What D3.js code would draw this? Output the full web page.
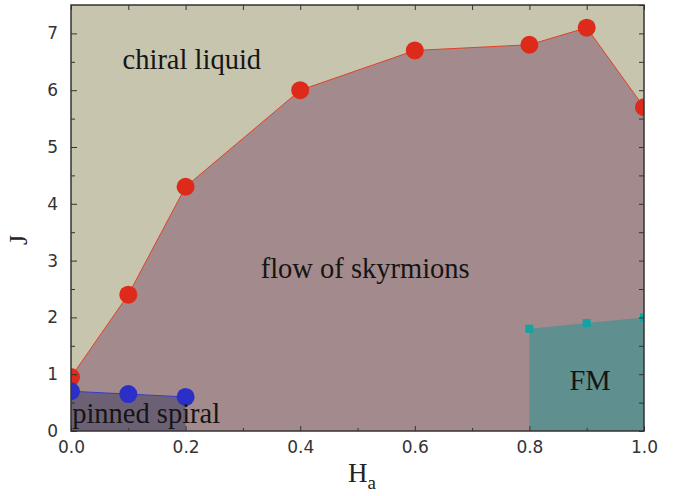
<!DOCTYPE html>
<html><head><meta charset="utf-8">
<script src="https://cdn.jsdelivr.net/npm/d3@7"></script>
<style>body{margin:0;background:#fff}svg{display:block}</style>
</head><body>
<svg id="c" width="681" height="496"></svg>
<script>
const skyrmH = [0, 0.1, 0.2, 0.4, 0.6, 0.8, 0.9, 1.0];
const skyrmJ = [0.95, 2.4, 4.3, 6.0, 6.7, 6.8, 7.1, 5.7];
const pinnedH = [0, 0.1, 0.2];
const pinnedJ = [0.7, 0.65, 0.6];
const fmH = [0.8, 0.9, 1.0];
const fmJ = [1.8, 1.9, 2.0];
const xTicks = [0, 0.2, 0.4, 0.6, 0.8, 1.0];
const yTicks = [0, 1, 2, 3, 4, 5, 6, 7];
const labels = [
  {text: "chiral liquid", h: 0.09, j: 6.38},
  {text: "flow of skyrmions", h: 0.331, j: 2.7},
  {text: "pinned spiral", h: 0.002, j: 0.14},
  {text: "FM", h: 0.87, j: 0.72}
];

const svg = d3.select("#c");
const L = 71, R = 644, T = 5, B = 431;
const x = d3.scaleLinear().domain([0, 1]).range([L, R]);
const y = d3.scaleLinear().domain([0, 7.5]).range([B, T]);

svg.append("defs").append("clipPath").attr("id", "clip")
  .append("rect").attr("x", L).attr("y", T).attr("width", R - L).attr("height", B - T);
const g = svg.append("g").attr("clip-path", "url(#clip)");

g.append("rect").attr("x", L).attr("y", T).attr("width", R - L).attr("height", B - T).attr("fill", "#c7c5ae");

const sk = skyrmH.map((h, i) => [h, skyrmJ[i]]);
const area = d3.area().x(d => x(d[0])).y0(y(0)).y1(d => y(d[1]));
g.append("path").datum(sk).attr("d", area).attr("fill", "#a38a8c");
g.append("path").datum(sk).attr("d", d3.line().x(d => x(d[0])).y(d => y(d[1])))
  .attr("fill", "none").attr("stroke", "#e0402a").attr("stroke-width", 1);

const pn = pinnedH.map((h, i) => [h, pinnedJ[i]]);
g.append("path").datum(pn).attr("d", area).attr("fill", "#6c6174");
g.append("path").datum(pn).attr("d", d3.line().x(d => x(d[0])).y(d => y(d[1])))
  .attr("fill", "none").attr("stroke", "#3a3ad0").attr("stroke-width", 1);

const fm = fmH.map((h, i) => [h, fmJ[i]]);
g.append("path").datum(fm).attr("d", area).attr("fill", "#5f8f8f");

g.selectAll(".red").data(sk).join("circle")
  .attr("cx", d => x(d[0])).attr("cy", d => y(d[1])).attr("r", 9).attr("fill", "#dd2a1a");
g.selectAll(".blue").data(pn).join("circle")
  .attr("cx", d => x(d[0])).attr("cy", d => y(d[1])).attr("r", 9).attr("fill", "#2b2fc8");
g.selectAll(".sq").data(fm).join("rect")
  .attr("x", d => x(d[0]) - 4).attr("y", d => y(d[1]) - 4).attr("width", 8).attr("height", 8).attr("fill", "#12a3a3");

svg.selectAll(".lab").data(labels).join("text")
  .attr("x", d => x(d.h)).attr("y", d => y(d.j))
  .attr("font-family", "Liberation Serif, DejaVu Serif, serif").attr("font-size", 28.5)
  .attr("fill", "#151515").text(d => d.text);

// axes
const fmt = d3.format(".1f");
const ax = svg.append("g");
ax.append("g").attr("transform", `translate(0,${B})`)
  .call(d3.axisBottom(x).tickValues(xTicks).tickFormat(fmt).tickSizeInner(-5).tickSizeOuter(0).tickPadding(10));
ax.append("g").attr("transform", `translate(0,${T})`)
  .call(d3.axisTop(x).tickValues(d3.range(0, 1.001, 0.1)).tickFormat("").tickSizeInner(-5).tickSizeOuter(0));
ax.append("g").attr("transform", `translate(0,${B})`)
  .call(d3.axisBottom(x).tickValues(d3.range(0.1, 1, 0.2)).tickFormat("").tickSizeInner(-3).tickSizeOuter(0));
ax.append("g").attr("transform", `translate(${L},0)`)
  .call(d3.axisLeft(y).tickValues(yTicks).tickFormat(d3.format("d")).tickSizeInner(-6).tickSizeOuter(0).tickPadding(13));
ax.append("g").attr("transform", `translate(${L},0)`)
  .call(d3.axisLeft(y).tickValues(d3.range(0.5, 7.5, 1)).tickFormat("").tickSizeInner(-4).tickSizeOuter(0));
ax.append("g").attr("transform", `translate(${R},0)`)
  .call(d3.axisRight(y).tickValues(d3.range(0, 7.51, 0.5)).tickFormat("").tickSizeInner(-5).tickSizeOuter(0));
ax.selectAll(".domain").remove();
ax.selectAll("line").attr("stroke", "#333");
ax.selectAll("text").attr("font-family", "DejaVu Sans, sans-serif").attr("font-size", 17).attr("fill", "#333");
svg.append("rect").attr("x", L).attr("y", T).attr("width", R - L).attr("height", B - T)
  .attr("fill", "none").attr("stroke", "#333").attr("stroke-width", 1.5);

svg.append("text").attr("transform", `translate(27,${(T + B) / 2 + 22}) rotate(-90)`)
  .attr("text-anchor", "middle").attr("font-family", "Liberation Serif, serif").attr("font-size", 26).attr("fill", "#222").text("J");
const ht = svg.append("text").attr("x", 348).attr("y", 482)
  .attr("font-family", "Liberation Serif, serif").attr("font-size", 27).attr("fill", "#222");
ht.append("tspan").text("H");
ht.append("tspan").attr("font-size", 19).attr("dy", 7).text("a");
</script>
</body></html>
